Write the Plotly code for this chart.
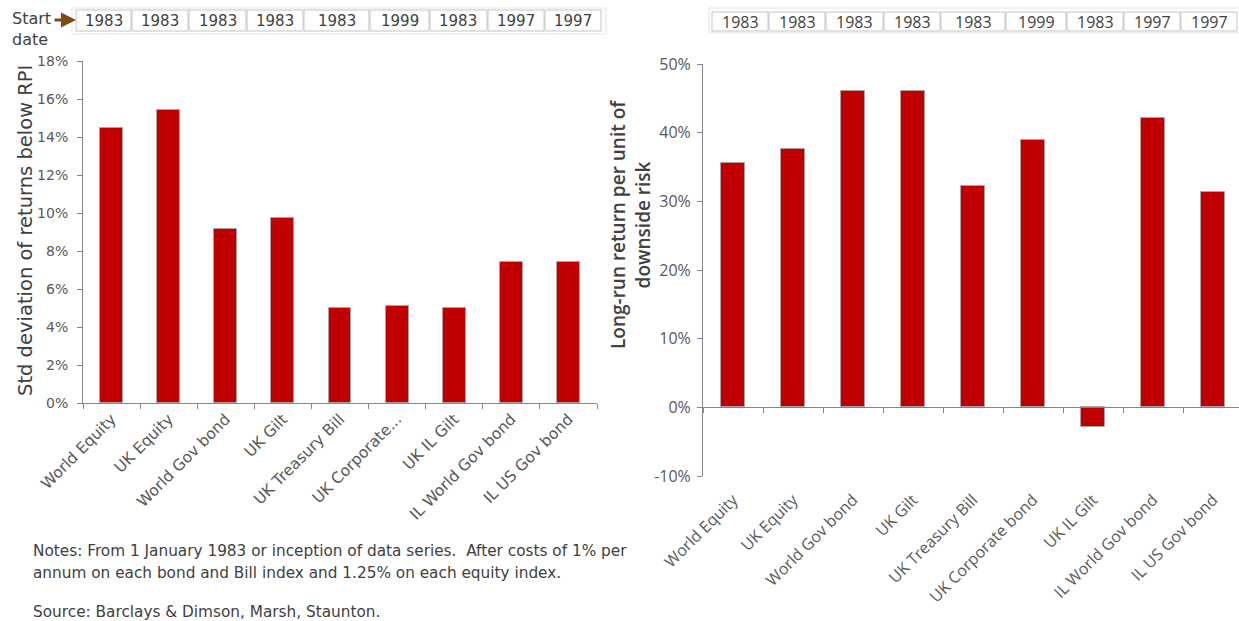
import plotly.graph_objects as go

# ---- data ----
assets = ["World Equity", "UK Equity", "World Gov bond", "UK Gilt", "UK Treasury Bill",
          "UK Corporate bond", "UK IL Gilt", "IL World Gov bond", "IL US Gov bond"]
start_dates = ["1983", "1983", "1983", "1983", "1983", "1999", "1983", "1997", "1997"]
downside_std = [14.5, 15.4, 9.15, 9.75, 4.98, 5.1, 5.02, 7.42, 7.42]          # % std dev below RPI
return_per_risk = [35.6, 37.6, 46.0, 46.1, 32.2, 38.9, -2.9, 42.2, 31.3]     # % return per unit risk
left_ticks = list(range(0, 19, 2))
right_ticks = list(range(-10, 51, 10))

# ---- layout constants (pixels) ----
W, H = 1239, 621
def px(x): return x / W
def py(y): return 1 - y / H

BAR = "#C00000"
AXIS = "#868686"
TXT = "#404040"
LBL = "#595959"
LFONT = "DejaVu Sans, sans-serif"
RFONT = "Open Sans, sans-serif"

fig = go.Figure()
fig.add_trace(go.Bar(x=assets, y=downside_std, xaxis="x", yaxis="y", width=0.4,
                     marker=dict(color=BAR, line=dict(color="#b0a0a0", width=1))))
fig.add_trace(go.Bar(x=assets, y=return_per_risk, xaxis="x2", yaxis="y2", width=0.4,
                     marker=dict(color=BAR, line=dict(color="#b0a0a0", width=1))))

# left panel domain
lx0, lx1, ly0, ly1 = px(83), px(597), py(403), py(61)
# right panel domain (runs past the right edge of the page)
rx0, rx1, ry0, ry1 = px(703), 1.0, py(476), py(64)
r_lo, r_hi = -10, 50
zero_pos = ry0 + (0 - r_lo) / (r_hi - r_lo) * (ry1 - ry0)
r_xmax = -0.5 + (1239 - 703) / 60.0

fig.update_layout(
    width=W, height=H, margin=dict(l=0, r=0, t=0, b=0, autoexpand=False),
    paper_bgcolor="white", plot_bgcolor="white", showlegend=False, bargap=0,
    xaxis=dict(domain=[lx0, lx1], anchor="y", type="category", range=[-0.5, 8.5],
               tickson="boundaries", ticks="outside", ticklen=5, tickcolor=AXIS,
               showline=True, linecolor=AXIS, linewidth=1, showgrid=False, automargin=False,
               tickangle=-45, tickfont=dict(family=LFONT, size=15.5, color=LBL),
               labelalias={"UK Corporate bond": "UK Corporate..."}),
    yaxis=dict(domain=[ly0, ly1], anchor="x", range=[0, 18], automargin=False,
               tickvals=left_ticks, ticktext=[f"{v}%" for v in left_ticks],
               ticks="outside", ticklen=5, tickcolor=AXIS, showline=True, linecolor=AXIS,
               showgrid=False, zeroline=False, ticklabelstandoff=6,
               tickfont=dict(family=LFONT, size=14, color=LBL)),
    xaxis2=dict(domain=[rx0, rx1], anchor="free", position=zero_pos, type="category",
                range=[-0.5, r_xmax], tickson="boundaries", ticks="outside", ticklen=5,
                tickcolor=AXIS, showline=True, linecolor=AXIS, linewidth=1, showgrid=False,
                automargin=False, tickangle=-45, ticklabelstandoff=76,
                tickfont=dict(family=RFONT, size=16, color=LBL)),
    yaxis2=dict(domain=[ry0, ry1], anchor="x2", range=[r_lo, r_hi], automargin=False,
                tickvals=right_ticks, ticktext=[f"{v}%" for v in right_ticks],
                ticks="outside", ticklen=5, tickcolor=AXIS, showline=True, linecolor=AXIS,
                showgrid=False, zeroline=False, ticklabelstandoff=3,
                tickfont=dict(family=RFONT, size=16, color=LBL)),
)

shapes = []
ann = []

def label(x, y, text, font, xanchor="center", yanchor="middle", angle=0):
    ann.append(dict(x=px(x), y=py(y), xref="paper", yref="paper", text=text, showarrow=False,
                    xanchor=xanchor, yanchor=yanchor, textangle=angle, font=font))

# axis titles
label(25, 231, "Std deviation of returns below RPI", dict(family=LFONT, size=19.5, color=TXT), angle=-90)
label(630, 225, "Long-run return per unit of<br>downside risk",
      dict(family=RFONT, size=19, color=TXT, weight=600), angle=-90)

# start-date header rows
left_edges = [76, 132, 189, 247, 304, 370, 430, 488, 545, 602]
right_edges = [712, 769, 826, 884, 941, 1006, 1067, 1124, 1181, 1238]
shapes.append(dict(type="rect", xref="paper", yref="paper", x0=px(72), x1=px(606),
                   y0=py(34), y1=py(8), line=dict(color="#e4e4e4", width=1)))
shapes.append(dict(type="rect", xref="paper", yref="paper", x0=px(709), x1=px(1240),
                   y0=py(33), y1=py(8), line=dict(color="#e4e4e4", width=1)))
for edges, top, bot, font in ((left_edges, 10, 31, dict(family=LFONT, size=15, color=TXT)),
                              (right_edges, 12, 31, dict(family=RFONT, size=16, color=TXT))):
    for i, d in enumerate(start_dates):
        a, b = edges[i], edges[i + 1] - 1
        shapes.append(dict(type="rect", xref="paper", yref="paper", x0=px(a), x1=px(b),
                           y0=py(bot), y1=py(top), line=dict(color="#c4c4c4", width=1)))
        label((a + b) / 2, (top + bot) / 2 + 0.5, d, font)

label(10, 18, "Start", dict(family=LFONT, size=16, color=TXT), xanchor="left")
label(10, 39, "date", dict(family=LFONT, size=16, color=TXT), xanchor="left")
ann.append(dict(x=px(76), y=py(20), xref="paper", yref="paper", ax=-23, ay=0, text="",
                showarrow=True, arrowhead=2, arrowsize=1, arrowwidth=3, arrowcolor="#7F4A17"))

# notes
notes = [
    (551, "Notes: From 1 January 1983 or inception of data series.  After costs of 1% per"),
    (573, "annum on each bond and Bill index and 1.25% on each equity index."),
    (612, "Source: Barclays & Dimson, Marsh, Staunton."),
]
for y, t in notes:
    label(31, y, t, dict(family=LFONT, size=15.3, color=TXT), xanchor="left")

fig.update_layout(shapes=shapes, annotations=ann)
fig.write_html("out.html")
